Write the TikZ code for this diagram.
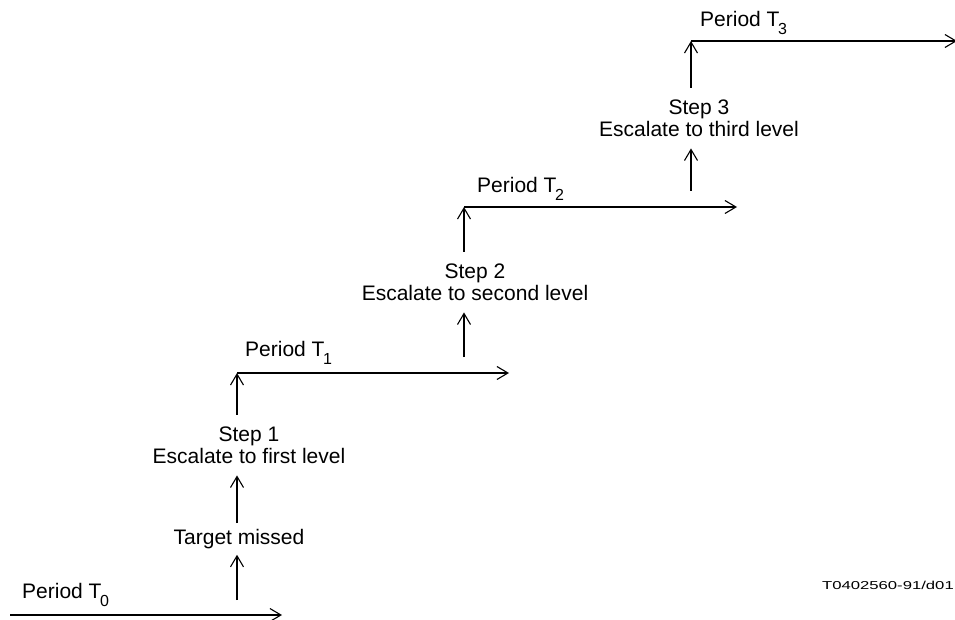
\documentclass[tikz,border=0pt]{standalone}
\usepackage{fontspec}
\setmainfont{Liberation Sans}
\usetikzlibrary{arrows.meta,positioning}
\newcommand{\persub}[1]{\kern-1.5pt\raisebox{-8pt}{\fontsize{16}{16}\selectfont #1}}
\tikzset{
  flow/.style={line width=1.2pt, -{Straight Barb[length=11pt,width=13pt,line width=1.1pt]}},
  lbl/.style={font=\fontsize{21}{22}\selectfont, inner sep=0pt, align=center},
  steptext/.style={lbl, outer sep=12pt},
}

\begin{document}
\begin{tikzpicture}[x=1pt,y=-1pt]
\useasboundingbox (0,0) rectangle (955,620);

% period T0 and the missed target
\coordinate (t0s) at (10,615);
\coordinate (t0e) at (282,615);
\draw[flow] (t0s) -- (t0e);
\node[lbl, anchor=base west] (per0) at (22,598) {Period T\persub{0}};

\coordinate (up0) at (237,600);
\node[lbl, outer sep=6pt] (miss) at (239,539) {Target missed};
\draw[flow] (up0) -- (up0 |- miss.south);

% step 1
\node[steptext] (step1) at (249,445) {Step 1\\Escalate to first level};
\draw[flow] (miss.north -| up0) -- (step1.south -| up0);
\coordinate (c1) at (237,373);
\coordinate (e1) at (509,373);
\draw[flow] (step1.north -| c1) -- (c1);
\draw[flow] (c1) -- (e1);
\node[lbl, anchor=base west] (per1) at (245,356) {Period T\persub{1}};

% step 2
\coordinate (up1) at (464,357);
\node[steptext] (step2) at (475,282) {Step 2\\Escalate to second level};
\draw[flow] (up1) -- (up1 |- step2.south);
\coordinate (c2) at (464,207);
\coordinate (e2) at (737,207);
\draw[flow] (step2.north -| c2) -- (c2);
\draw[flow] (c2) -- (e2);
\node[lbl, anchor=base west] (per2) at (477,193) {Period T\persub{2}};

% step 3
\coordinate (up2) at (691,191);
\node[steptext] (step3) at (699,118) {Step 3\\Escalate to third level};
\draw[flow] (up2) -- (up2 |- step3.south);
\coordinate (c3) at (691,41);
\coordinate (e3) at (957,41);
\draw[flow] (step3.north -| c3) -- (c3);
\draw[flow] (c3) -- (e3);
\node[lbl, anchor=base west] (per3) at (700,27) {Period T\persub{3}};

% figure code
\node[inner sep=0pt, anchor=base east, font=\fontsize{11.5}{13}\selectfont] (code) at (954,589) {\scalebox{1.45}[1]{T0402560-91/d01}};
\end{tikzpicture}
\end{document}
